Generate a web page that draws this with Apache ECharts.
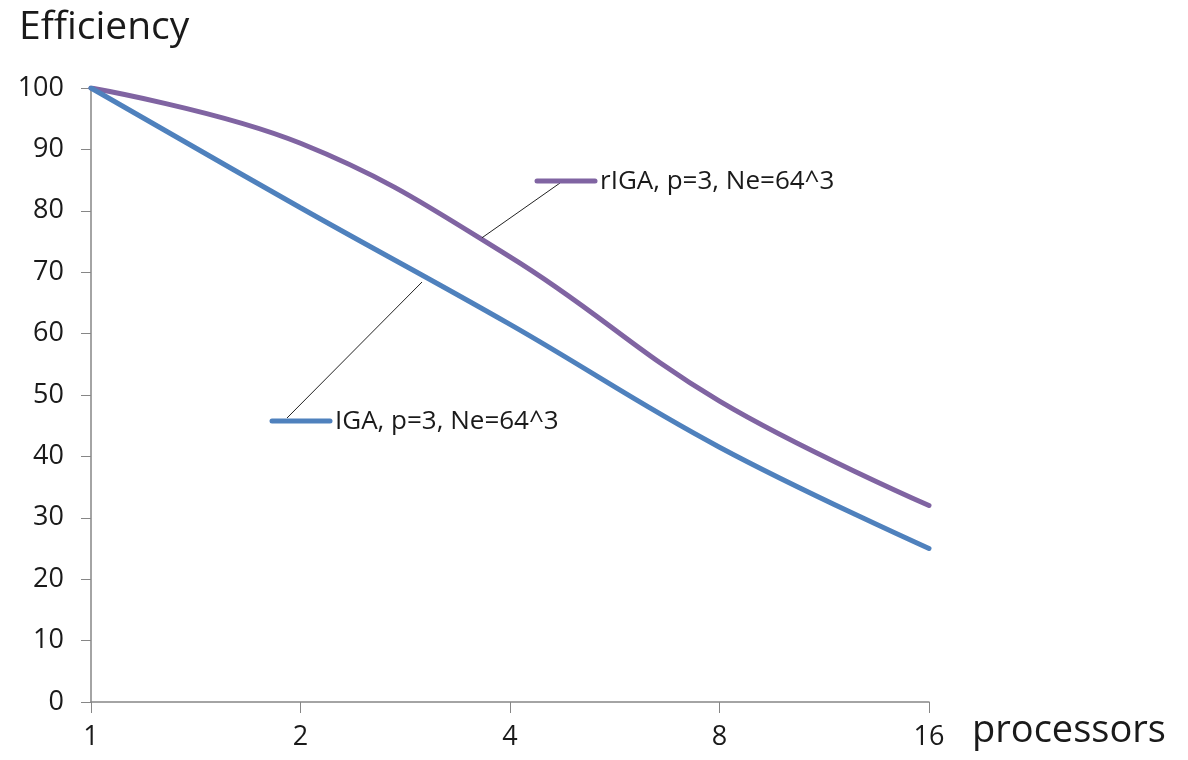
<!DOCTYPE html>
<html>
<head>
<meta charset="utf-8">
<script src="https://cdn.jsdelivr.net/npm/echarts@6/dist/echarts.min.js"></script>
<style>
  html, body { margin: 0; padding: 0; background: #fff; }
  #chart { width: 1188px; height: 760px; }
</style>
</head>
<body>
<div id="chart"></div>
<script>
// Parallel efficiency (%) versus processor count
const processors = ['1', '2', '4', '8', '16'];
const rigaEfficiency = [100, 91, 72.5, 49, 32];
const igaEfficiency = [100, 80.5, 61.5, 41.5, 25];

const rigaName = 'rIGA, p=3, Ne=64^3';
const igaName = 'IGA, p=3, Ne=64^3';

// Callout anchors on each curve: [fractional category index, efficiency]
const rigaAnchor = [1.866, 75.6];
const igaAnchor = [1.58, 68.4];

const purple = '#8064A2';
const blue = '#4F81BD';
const axisGrey = '#868686';
const font = '"Open Sans", "Noto Sans", sans-serif';

const chart = echarts.init(document.getElementById('chart'), null, { renderer: 'canvas' });

chart.setOption({
  animation: false,
  backgroundColor: '#ffffff',
  grid: { left: 91, right: 259, top: 88, bottom: 58, containLabel: false },
  xAxis: {
    type: 'category',
    data: processors,
    boundaryGap: false,
    axisLine: { lineStyle: { color: axisGrey, width: 1.5 } },
    axisTick: { show: true, length: 11, alignWithLabel: true, lineStyle: { color: axisGrey } },
    axisLabel: { color: '#1a1a1a', fontFamily: font, fontSize: 27, margin: 22 },
    splitLine: { show: false }
  },
  yAxis: {
    type: 'value',
    min: 0,
    max: 100,
    interval: 10,
    axisLine: { show: true, lineStyle: { color: axisGrey, width: 1.5 } },
    axisTick: { show: true, length: 10, lineStyle: { color: axisGrey } },
    axisLabel: { color: '#1a1a1a', fontFamily: font, fontSize: 27, margin: 27 },
    splitLine: { show: false }
  },
  series: [
    {
      name: rigaName,
      type: 'line',
      data: rigaEfficiency,
      smooth: 0.4,
      showSymbol: false,
      lineStyle: { color: purple, width: 5, cap: 'round' },
      z: 3
    },
    {
      name: igaName,
      type: 'line',
      data: igaEfficiency,
      smooth: 0.4,
      showSymbol: false,
      lineStyle: { color: blue, width: 5, cap: 'round' },
      z: 3
    }
  ]
});

// Pixel position of a point given as fractional category index and value
function toPixel(anchor) {
  const i = Math.floor(anchor[0]);
  const t = anchor[0] - i;
  const a = chart.convertToPixel({ xAxisIndex: 0, yAxisIndex: 0 }, [i, anchor[1]]);
  const b = chart.convertToPixel({ xAxisIndex: 0, yAxisIndex: 0 }, [i + 1, anchor[1]]);
  return [a[0] + (b[0] - a[0]) * t, a[1]];
}

function callout(name, color, keyX, keyY, leaderFrom, anchor) {
  const end = toPixel(anchor);
  return [
    {
      type: 'line',
      shape: { x1: leaderFrom[0], y1: leaderFrom[1], x2: end[0], y2: end[1] },
      style: { stroke: '#222', lineWidth: 1 },
      z: 10
    },
    {
      type: 'line',
      shape: { x1: keyX, y1: keyY, x2: keyX + 58, y2: keyY },
      style: { stroke: color, lineWidth: 5, lineCap: 'round' },
      z: 11
    },
    {
      type: 'text',
      x: keyX + 63,
      y: keyY + 1,
      style: {
        text: name,
        fill: '#1a1a1a',
        font: '26px ' + font,
        verticalAlign: 'middle',
        align: 'left'
      },
      z: 11
    }
  ];
}

chart.setOption({
  graphic: [
    {
      type: 'text',
      left: 19,
      top: 8,
      style: { text: 'Efficiency', fill: '#1a1a1a', font: '39px ' + font }
    },
    {
      type: 'text',
      left: 972,
      top: 712,
      style: { text: 'processors', fill: '#1a1a1a', font: '38px ' + font }
    }
  ].concat(
    callout(rigaName, purple, 537, 181, [560, 183], rigaAnchor),
    callout(igaName, blue, 272, 421, [287, 418], igaAnchor)
  )
});
</script>
</body>
</html>
